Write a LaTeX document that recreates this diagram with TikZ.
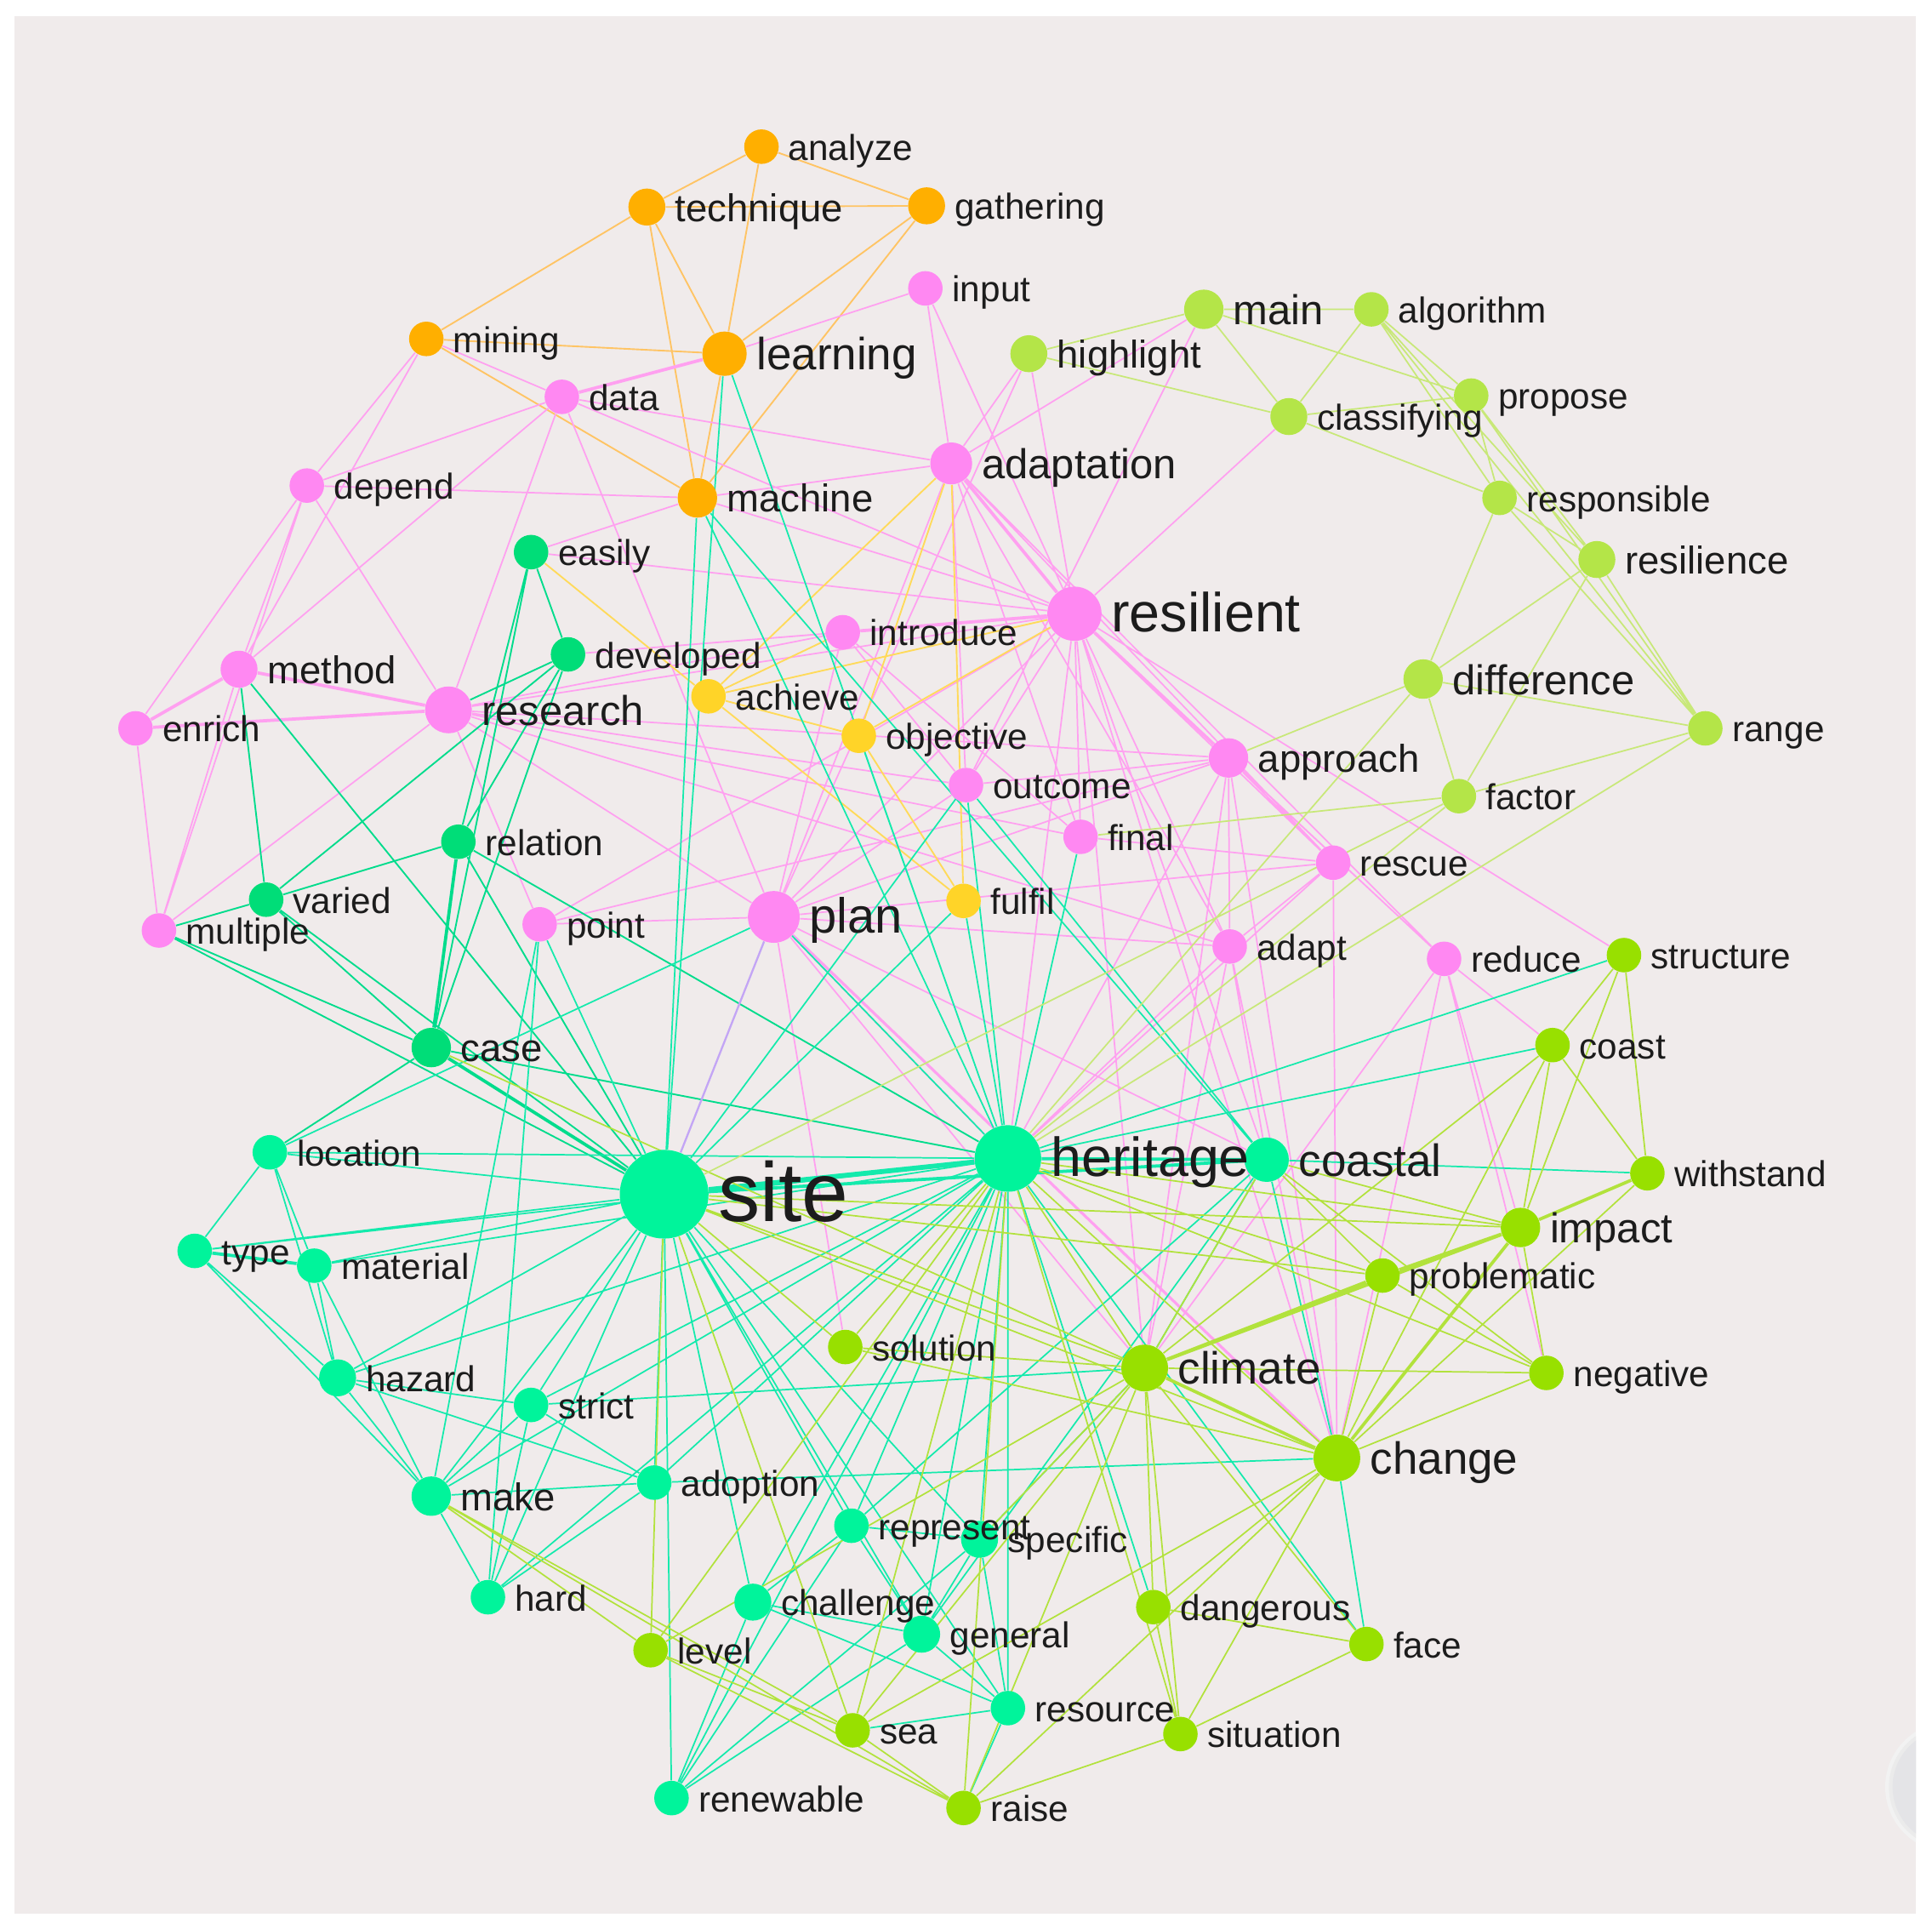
\documentclass[tikz,border=0pt]{standalone}
\usepackage{fontspec}
\setmainfont{Liberation Sans}
\pgfdeclarelayer{bg}
\pgfdeclarelayer{edges}
\pgfsetlayers{bg,edges,main}
\definecolor{bgc}{RGB}{240,235,235}
\definecolor{txt}{RGB}{28,28,28}
\definecolor{cOr}{RGB}{255,175,0}
\definecolor{cPk}{RGB}{255,136,242}
\definecolor{cYe}{RGB}{255,212,40}
\definecolor{cDg}{RGB}{0,221,120}
\definecolor{cCy}{RGB}{0,244,155}
\definecolor{cLi}{RGB}{180,229,72}
\definecolor{cGr}{RGB}{152,224,0}
\definecolor{eOr}{RGB}{255,196,100}
\definecolor{ePk}{RGB}{255,160,240}
\definecolor{eYe}{RGB}{255,218,90}
\definecolor{eCy}{RGB}{20,234,172}
\definecolor{eDg}{RGB}{0,220,140}
\definecolor{eLi}{RGB}{200,232,120}
\definecolor{eGr}{RGB}{178,226,60}
\definecolor{eLv}{RGB}{195,165,245}
\definecolor{knob}{RGB}{228,228,231}
\newcommand\kwfa{\fontsize{14.6}{17}\selectfont}
\newcommand\kwfb{\fontsize{15.7}{18}\selectfont}
\newcommand\kwfc{\fontsize{16.9}{19}\selectfont}
\newcommand\kwfd{\fontsize{18.3}{21}\selectfont}
\newcommand\kwfe{\fontsize{20}{23}\selectfont}
\newcommand\kwff{\fontsize{22.3}{25}\selectfont}
\newcommand\kwfg{\fontsize{34}{38}\selectfont}
\tikzset{
  dot/.style={circle, inner sep=0pt, draw=none},
  lab/.style={anchor=base west, inner sep=0pt, text=txt},
  eo/.style={draw=eOr, line width=.65pt},
  ep/.style={draw=ePk, line width=.6pt},
  ey/.style={draw=eYe, line width=.65pt},
  eg/.style={draw=eDg, line width=.65pt},
  ec/.style={draw=eCy, line width=.6pt},
  egr/.style={draw=eGr, line width=.6pt},
  el/.style={draw=eLi, line width=.6pt},
  thk/.style={line width=1.3pt},
}
\newcommand\kwn[5]{\node[dot, minimum size=#4pt, fill=#5] (#1) at (#2,#3) {};}
\newcommand\kwl[4]{\node[lab, font=#2] (#1-t) at ([xshift=3.6pt,yshift=-#3pt]#1.east) {#4};}
\begin{document}
\begin{tikzpicture}[x=0.5pt,y=-0.5pt]
\useasboundingbox (0,0) rectangle (1568,1565);
\begin{pgfonlayer}{bg}
\fill[white] (0,0) rectangle (1568,1565);
\fill[bgc] (12,13) rectangle (1555,1553);
\begin{scope}
\clip (12,13) rectangle (1555,1553);
\fill[black!5] (1583,1450) circle (53);
\fill[black!8] (1583,1450) circle (50);
\fill[knob] (1583,1450) circle (47);
\end{scope}
\end{pgfonlayer}
% ---------- nodes ----------
\kwn{analyze}{618}{119}{14}{cOr}
\kwn{technique}{525}{168}{15}{cOr}
\kwn{gathering}{752}{167}{15}{cOr}
\kwn{mining}{346}{275}{14}{cOr}
\kwn{learning}{588}{287}{18}{cOr}
\kwn{machine}{566}{404}{16}{cOr}
\kwn{input}{751}{234}{14}{cPk}
\kwn{data}{456}{322}{14}{cPk}
\kwn{depend}{249}{394}{14}{cPk}
\kwn{adaptation}{772}{376}{17}{cPk}
\kwn{resilient}{872}{498}{22}{cPk}
\kwn{introduce}{684}{513}{14}{cPk}
\kwn{method}{194}{543}{15}{cPk}
\kwn{enrich}{110}{591}{14}{cPk}
\kwn{research}{364}{576}{19}{cPk}
\kwn{outcome}{784}{637}{14}{cPk}
\kwn{approach}{997}{615}{16}{cPk}
\kwn{final}{877}{679}{14}{cPk}
\kwn{rescue}{1082}{700}{14}{cPk}
\kwn{plan}{628}{744}{21}{cPk}
\kwn{point}{438}{750}{14}{cPk}
\kwn{multiple}{129}{755}{14}{cPk}
\kwn{adapt}{998}{768}{14}{cPk}
\kwn{reduce}{1172}{778}{14}{cPk}
\kwn{achieve}{575}{565}{14}{cYe}
\kwn{objective}{697}{597}{14}{cYe}
\kwn{fulfil}{782}{731}{14}{cYe}
\kwn{easily}{431}{448}{14}{cDg}
\kwn{developed}{461}{531}{14}{cDg}
\kwn{relation}{372}{683}{14}{cDg}
\kwn{varied}{216}{730}{14}{cDg}
\kwn{case}{350}{850}{16}{cDg}
\kwn{main}{977}{251}{16}{cLi}
\kwn{algorithm}{1113}{251}{14}{cLi}
\kwn{highlight}{835}{287}{15}{cLi}
\kwn{classifying}{1046}{338}{15}{cLi}
\kwn{propose}{1194}{321}{14}{cLi}
\kwn{responsible}{1217}{404}{14}{cLi}
\kwn{resilience}{1296}{454}{15}{cLi}
\kwn{difference}{1155}{551}{16}{cLi}
\kwn{range}{1384}{591}{14}{cLi}
\kwn{factor}{1184}{646}{14}{cLi}
\kwn{structure}{1318}{775}{14}{cGr}
\kwn{coast}{1260}{848}{14}{cGr}
\kwn{withstand}{1337}{952}{14}{cGr}
\kwn{impact}{1234}{996}{16}{cGr}
\kwn{problematic}{1122}{1035}{14}{cGr}
\kwn{negative}{1255}{1114}{14}{cGr}
\kwn{climate}{929}{1110}{19}{cGr}
\kwn{change}{1085}{1183}{19}{cGr}
\kwn{solution}{686}{1093}{14}{cGr}
\kwn{level}{528}{1339}{14}{cGr}
\kwn{sea}{692}{1404}{14}{cGr}
\kwn{raise}{782}{1467}{14}{cGr}
\kwn{dangerous}{936}{1304}{14}{cGr}
\kwn{face}{1109}{1334}{14}{cGr}
\kwn{situation}{958}{1407}{14}{cGr}
\kwn{site}{539}{969}{36}{cCy}
\kwn{heritage}{818}{940}{27}{cCy}
\kwn{coastal}{1028}{941}{18}{cCy}
\kwn{location}{219}{935}{14}{cCy}
\kwn{type}{158}{1015}{14}{cCy}
\kwn{material}{255}{1027}{14}{cCy}
\kwn{hazard}{274}{1118}{15}{cCy}
\kwn{strict}{431}{1140}{14}{cCy}
\kwn{make}{350}{1214}{16}{cCy}
\kwn{adoption}{531}{1203}{14}{cCy}
\kwn{hard}{396}{1296}{14}{cCy}
\kwn{represent}{691}{1238}{14}{cCy}
\kwn{specific}{795}{1249}{15}{cCy}
\kwn{challenge}{611}{1300}{15}{cCy}
\kwn{general}{748}{1326}{15}{cCy}
\kwn{resource}{818}{1386}{14}{cCy}
\kwn{renewable}{545}{1459}{14}{cCy}
% ---------- labels ----------
\kwl{analyze}{\kwfa}{5.5}{analyze}
\kwl{technique}{\kwfb}{5.8}{technique}
\kwl{gathering}{\kwfa}{5.5}{gathering}
\kwl{mining}{\kwfa}{5.5}{mining}
\kwl{learning}{\kwfd}{6.6}{learning}
\kwl{machine}{\kwfb}{5.8}{machine}
\kwl{input}{\kwfa}{5.5}{input}
\kwl{data}{\kwfa}{5.5}{data}
\kwl{depend}{\kwfa}{5.5}{depend}
\kwl{adaptation}{\kwfc}{6.2}{adaptation}
\kwl{resilient}{\kwff}{7.4}{resilient}
\kwl{introduce}{\kwfa}{5.5}{introduce}
\kwl{method}{\kwfb}{5.8}{method}
\kwl{enrich}{\kwfa}{5.5}{enrich}
\kwl{research}{\kwfc}{6.2}{research}
\kwl{outcome}{\kwfa}{5.5}{outcome}
\kwl{approach}{\kwfb}{5.8}{approach}
\kwl{final}{\kwfa}{5.5}{final}
\kwl{rescue}{\kwfa}{5.5}{rescue}
\kwl{plan}{\kwfe}{6.6}{plan}
\kwl{point}{\kwfa}{5.5}{point}
\kwl{multiple}{\kwfa}{5.5}{multiple}
\kwl{adapt}{\kwfa}{5.5}{adapt}
\kwl{reduce}{\kwfa}{5.5}{reduce}
\kwl{achieve}{\kwfa}{5.5}{achieve}
\kwl{objective}{\kwfa}{5.5}{objective}
\kwl{fulfil}{\kwfa}{5.5}{fulfil}
\kwl{easily}{\kwfa}{5.5}{easily}
\kwl{developed}{\kwfa}{5.5}{developed}
\kwl{relation}{\kwfa}{5.5}{relation}
\kwl{varied}{\kwfa}{5.5}{varied}
\kwl{case}{\kwfb}{5.8}{case}
\kwl{main}{\kwfc}{6.2}{main}
\kwl{algorithm}{\kwfa}{5.5}{algorithm}
\kwl{highlight}{\kwfb}{5.8}{highlight}
\kwl{classifying}{\kwfa}{5.5}{classifying}
\kwl{propose}{\kwfa}{5.5}{propose}
\kwl{responsible}{\kwfa}{5.5}{responsible}
\kwl{resilience}{\kwfb}{5.8}{resilience}
\kwl{difference}{\kwfc}{6.2}{difference}
\kwl{range}{\kwfa}{5.5}{range}
\kwl{factor}{\kwfa}{5.5}{factor}
\kwl{structure}{\kwfa}{5.5}{structure}
\kwl{coast}{\kwfa}{5.5}{coast}
\kwl{withstand}{\kwfa}{5.5}{withstand}
\kwl{impact}{\kwfc}{6.2}{impact}
\kwl{problematic}{\kwfa}{5.5}{problematic}
\kwl{negative}{\kwfa}{5.5}{negative}
\kwl{climate}{\kwfd}{6.6}{climate}
\kwl{change}{\kwfd}{6.6}{change}
\kwl{solution}{\kwfa}{5.5}{solution}
\kwl{level}{\kwfa}{5.5}{level}
\kwl{sea}{\kwfa}{5.5}{sea}
\kwl{raise}{\kwfa}{5.5}{raise}
\kwl{dangerous}{\kwfa}{5.5}{dangerous}
\kwl{face}{\kwfa}{5.5}{face}
\kwl{situation}{\kwfa}{5.5}{situation}
\kwl{site}{\kwfg}{11}{site}
\kwl{heritage}{\kwff}{7.2}{heritage}
\kwl{coastal}{\kwfd}{6.6}{coastal}
\kwl{location}{\kwfa}{5.5}{location}
\kwl{type}{\kwfa}{5.5}{type}
\kwl{material}{\kwfa}{5.5}{material}
\kwl{hazard}{\kwfa}{5.5}{hazard}
\kwl{strict}{\kwfa}{5.5}{strict}
\kwl{make}{\kwfb}{5.8}{make}
\kwl{adoption}{\kwfa}{5.5}{adoption}
\kwl{hard}{\kwfa}{5.5}{hard}
\kwl{represent}{\kwfa}{5.5}{represent}
\kwl{specific}{\kwfa}{5.5}{specific}
\kwl{challenge}{\kwfa}{5.5}{challenge}
\kwl{general}{\kwfa}{5.5}{general}
\kwl{resource}{\kwfa}{5.5}{resource}
\kwl{renewable}{\kwfa}{5.5}{renewable}
% ---------- edges ----------
\begin{pgfonlayer}{edges}
% orange
\draw[eo] (analyze)--(technique) (analyze)--(gathering) (analyze)--(learning)
 (technique)--(gathering) (technique)--(mining) (technique)--(learning) (technique)--(machine)
 (gathering)--(learning) (gathering)--(machine) (mining)--(learning) (mining)--(machine) (learning)--(machine);
% pink
\draw[ep] (mining)--(data) (mining)--(depend) (mining)--(method) (input)--(learning) (input)--(adaptation) (input)--(resilient)
 (data)--(adaptation) (data)--(resilient) (data)--(depend) (data)--(method) (data)--(research) (data)--(plan)
 (depend)--(machine) (depend)--(method) (depend)--(enrich) (depend)--(research) (depend)--(multiple)
 (method)--(multiple) (enrich)--(multiple) (multiple)--(research)
 (machine)--(adaptation) (machine)--(resilient) (easily)--(machine) (easily)--(resilient)
 (developed)--(introduce) (developed)--(resilient)
 (research)--(introduce) (research)--(resilient) (research)--(outcome) (research)--(approach) (research)--(final)
 (research)--(adapt) (research)--(point) (research)--(plan)
 (point)--(plan) (point)--(resilient) (point)--(approach)
 (introduce)--(plan) (introduce)--(final) (introduce)--(outcome)
 (adaptation)--(highlight) (adaptation)--(main) (adaptation)--(plan) (adaptation)--(outcome) (adaptation)--(final)
 (adaptation)--(rescue) (adaptation)--(reduce) (adaptation)--(adapt)
 (highlight)--(resilient) (highlight)--(plan) (classifying)--(resilient) (main)--(outcome)
 (resilient)--(rescue) (resilient)--(reduce) (resilient)--(adapt) (resilient)--(final) (resilient)--(outcome)
 (resilient)--(plan) (resilient)--(structure) (resilient)--(heritage) (resilient)--(coastal) (resilient)--(change) (resilient)--(climate)
 (approach)--(rescue) (approach)--(reduce) (approach)--(adapt) (approach)--(plan) (approach)--(heritage)
 (approach)--(climate) (approach)--(change) (approach)--(outcome)
 (rescue)--(adapt) (rescue)--(heritage) (rescue)--(change) (rescue)--(plan) (rescue)--(final)
 (reduce)--(change) (reduce)--(coast) (reduce)--(impact) (reduce)--(negative) (reduce)--(climate)
 (adapt)--(plan) (adapt)--(heritage) (adapt)--(climate) (adapt)--(change) (adapt)--(coastal)
 (plan)--(heritage) (plan)--(climate) (plan)--(solution) (plan)--(coastal) (outcome)--(plan);
\draw[ep,thk] (learning)--(data) (method)--(enrich) (method)--(research) (enrich)--(research)
 (introduce)--(resilient) (resilient)--(adaptation) (resilient)--(approach);
\draw[ep,line width=1.1pt] (plan)--(change);
% yellow
\draw[ey] (achieve)--(objective) (achieve)--(resilient) (achieve)--(adaptation) (achieve)--(easily) (achieve)--(fulfil)
 (objective)--(resilient) (objective)--(adaptation) (objective)--(fulfil) (fulfil)--(adaptation) (achieve)--(introduce);
% dark green
\draw[eg] (easily)--(developed) (easily)--(relation) (easily)--(case) (developed)--(relation) (developed)--(case)
 (developed)--(varied) (developed)--(research) (relation)--(varied) (relation)--(site) (varied)--(method)
 (varied)--(multiple) (varied)--(case) (varied)--(site) (case)--(multiple) (case)--(heritage) (case)--(location)
 (method)--(site) (multiple)--(site) (relation)--(heritage);
\draw[eg,thk] (relation)--(case) (case)--(site);
% cyan
\draw[ec] (site)--(location) (site)--(type) (site)--(material) (site)--(strict) (site)--(make)
 (site)--(adoption) (site)--(hard) (site)--(represent) (site)--(specific) (site)--(challenge) (site)--(general)
 (site)--(resource) (site)--(renewable) (site)--(machine) (site)--(learning) (site)--(fulfil)
 (site)--(outcome) (point)--(site)
 (heritage)--(plan) (heritage)--(machine) (heritage)--(learning) (heritage)--(fulfil) (heritage)--(final) (heritage)--(outcome)
 (heritage)--(objective) (heritage)--(structure) (heritage)--(coast) (heritage)--(location) (heritage)--(type) (heritage)--(material)
 (heritage)--(hazard) (heritage)--(make) (heritage)--(adoption) (heritage)--(renewable) (heritage)--(represent)
 (heritage)--(specific) (heritage)--(challenge) (heritage)--(general) (heritage)--(resource) (heritage)--(strict)
 (heritage)--(face) (heritage)--(dangerous) (heritage)--(hard)
 (coastal)--(withstand) (coastal)--(climate) (coastal)--(change) (coastal)--(represent) (coastal)--(general)
 (outcome)--(coastal) (machine)--(coastal)
 (location)--(type) (location)--(material) (location)--(hazard) (location)--(plan)
 (type)--(hazard) (type)--(make) (material)--(hazard) (material)--(make)
 (hazard)--(strict) (hazard)--(make) (hazard)--(adoption) (strict)--(make) (strict)--(hard) (strict)--(adoption)
 (strict)--(climate) (make)--(hard) (make)--(adoption) (hard)--(adoption) (hard)--(point) (point)--(make)
 (adoption)--(change) (represent)--(specific) (represent)--(challenge) (represent)--(general) (represent)--(renewable)
 (specific)--(general) (specific)--(resource) (specific)--(renewable) (challenge)--(general) (challenge)--(resource)
 (challenge)--(renewable) (general)--(resource) (general)--(renewable) (specific)--(climate) (change)--(face)
 (resource)--(sea) (resource)--(raise) (site)--(hazard);
\draw[draw=eLv, line width=.8pt] (site)--(plan);
\draw[ec,line width=2pt] (site)--(heritage);
\draw[ec,thk] (heritage)--(coastal) (site)--(coastal) (type)--(material);
% bright green
\draw[egr] (climate)--(heritage) (climate)--(site) (climate)--(negative) (climate)--(solution) (climate)--(dangerous)
 (climate)--(situation) (climate)--(face) (climate)--(sea) (climate)--(level) (climate)--(raise) (climate)--(case)
 (change)--(heritage) (change)--(site) (change)--(problematic) (change)--(negative) (change)--(dangerous)
 (change)--(situation) (change)--(sea) (change)--(raise) (change)--(solution) (change)--(withstand) (change)--(coast)
 (impact)--(coastal) (impact)--(heritage) (impact)--(site) (impact)--(structure) (impact)--(coast) (impact)--(negative)
 (coast)--(structure) (coast)--(withstand) (coast)--(climate) (structure)--(withstand)
 (problematic)--(coastal) (problematic)--(heritage) (problematic)--(site) (problematic)--(negative)
 (negative)--(coastal) (negative)--(heritage) (dangerous)--(face) (dangerous)--(situation) (face)--(situation)
 (situation)--(heritage) (situation)--(raise) (sea)--(site) (sea)--(make) (sea)--(level) (sea)--(raise) (sea)--(heritage)
 (raise)--(make) (raise)--(level) (raise)--(heritage) (level)--(site) (level)--(make) (level)--(heritage)
 (solution)--(site) (solution)--(heritage) (climate)--(coastal) (climate)--(specific);
\draw[egr,thk] (climate)--(change) (climate)--(impact) (climate)--(problematic) (change)--(impact)
 (impact)--(withstand) (impact)--(problematic);
% light lime
\draw[el] (main)--(algorithm) (main)--(highlight) (main)--(classifying) (main)--(propose)
 (algorithm)--(classifying) (algorithm)--(propose) (algorithm)--(responsible) (algorithm)--(resilience) (algorithm)--(range)
 (highlight)--(classifying) (classifying)--(propose) (classifying)--(responsible) (propose)--(responsible)
 (propose)--(resilience) (propose)--(range) (responsible)--(resilience) (responsible)--(difference) (responsible)--(range)
 (resilience)--(difference) (resilience)--(factor) (resilience)--(range) (difference)--(range) (difference)--(factor)
 (factor)--(range) (difference)--(approach) (difference)--(heritage) (factor)--(heritage) (factor)--(final)
 (factor)--(site) (range)--(heritage);
\end{pgfonlayer}
\end{tikzpicture}
\end{document}
